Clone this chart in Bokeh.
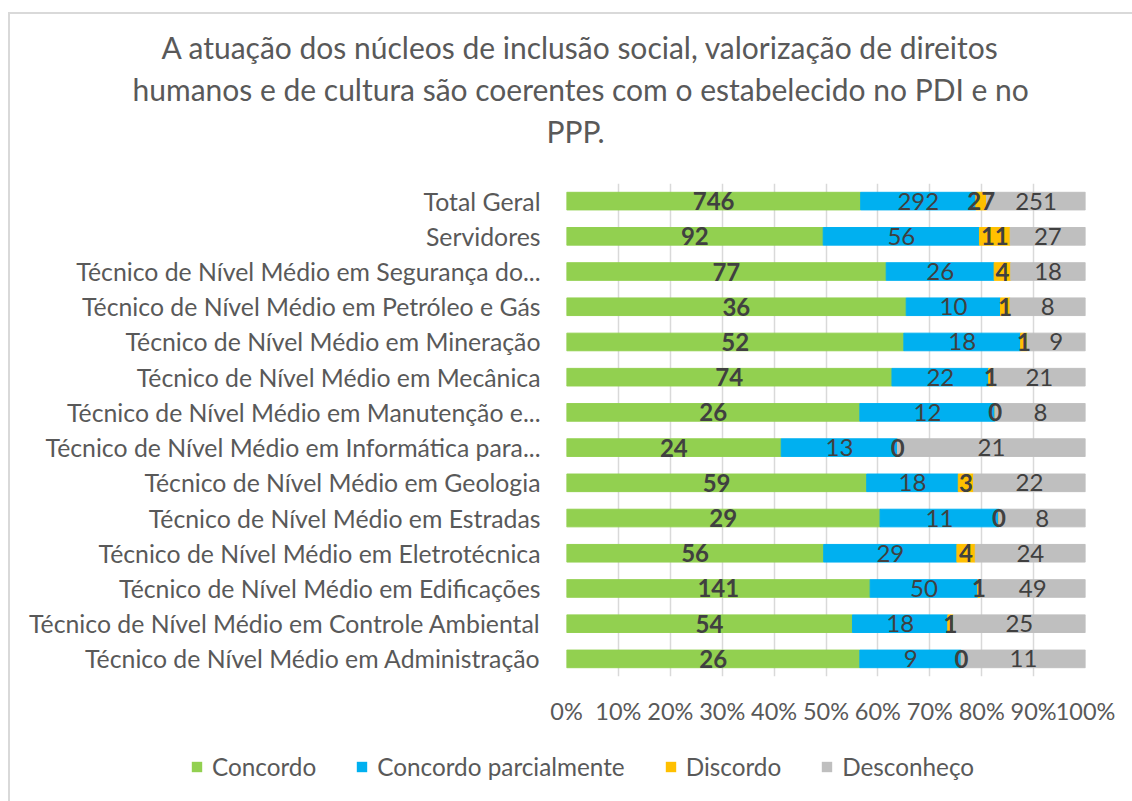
from bokeh.plotting import figure
from bokeh.models import (ColumnDataSource, FactorRange, FixedTicker, NumeralTickFormatter,
                          Title, LabelSet, Legend, LegendItem)
from bokeh.embed import file_html
from bokeh.resources import INLINE
from bokeh.core.properties import value

# ---- data (top to bottom as displayed) ----
categories = [
    "Total Geral",
    "Servidores",
    "Técnico de Nível Médio em Segurança do...",
    "Técnico de Nível Médio em Petróleo e Gás",
    "Técnico de Nível Médio em Mineração",
    "Técnico de Nível Médio em Mecânica",
    "Técnico de Nível Médio em Manutenção e...",
    "Técnico de Nível Médio em Informática para...",
    "Técnico de Nível Médio em Geologia",
    "Técnico de Nível Médio em Estradas",
    "Técnico de Nível Médio em Eletrotécnica",
    "Técnico de Nível Médio em Edificações",
    "Técnico de Nível Médio em Controle Ambiental",
    "Técnico de Nível Médio em Administração",
]
concordo = [746, 92, 77, 36, 52, 74, 26, 24, 59, 29, 56, 141, 54, 26]
concordo_parcialmente = [292, 56, 26, 10, 18, 22, 12, 13, 18, 11, 29, 50, 18, 9]
discordo = [27, 11, 4, 1, 1, 1, 0, 0, 3, 0, 4, 1, 1, 0]
desconheco = [251, 27, 18, 8, 9, 21, 8, 21, 22, 8, 24, 49, 25, 11]

series_names = ["Concordo", "Concordo parcialmente", "Discordo", "Desconheço"]
series_colors = ["#92D050", "#00B0F0", "#FFC000", "#BFBFBF"]
series_bold = [True, False, True, False]
x_ticks = [0.0, 0.1, 0.2, 0.3, 0.4, 0.5, 0.6, 0.7, 0.8, 0.9, 1.0]
title_lines = [
    "A atuação dos núcleos de inclusão social, valorização de direitos",
    "humanos e de cultura são coerentes com o estabelecido no PDI e no",
    "PPP.",
]

FONT = "Lato"
TXT = "#404040"
GRAY = "#595959"
EDGE = "#D9D9D9"

series = [concordo, concordo_parcialmente, discordo, desconheco]
keys = ["s0", "s1", "s2", "s3"]
totals = [sum(v) for v in zip(*series)]

data = {"cat": categories}
for k, s in zip(keys, series):
    data[k] = [v / t for v, t in zip(s, totals)]
source = ColumnDataSource(data)

W = 1132
MAIN_H, LEG_H = 740, 61
LEFT, RIGHT, TOP, BOTTOM = 566, 47, 183, 64
p = figure(width=W, height=MAIN_H,
           y_range=FactorRange(*reversed(categories)), x_range=(0, 1),
           output_backend="svg", toolbar_location=None,
           min_border_left=LEFT, min_border_right=RIGHT,
           min_border_top=TOP, min_border_bottom=BOTTOM)
p.outline_line_color = None
p.border_fill_alpha = 0
p.styles = {"background": f"linear-gradient({EDGE},{EDGE}) 8px 12px / 100% 2px no-repeat, "
                          f"linear-gradient({EDGE},{EDGE}) 8px 12px / 2px 100% no-repeat, white"}

renderers = p.hbar_stack(keys, y="cat", height=0.5, color=series_colors, source=source)

# data labels
starts = [0.0] * len(categories)
for k, s, bold in zip(keys, series, series_bold):
    fr = data[k]
    mids = [st + f / 2 for st, f in zip(starts, fr)]
    starts = [st + f for st, f in zip(starts, fr)]
    ls = ColumnDataSource(dict(x=mids, y=categories, t=[str(v) for v in s]))
    p.add_layout(LabelSet(x="x", y="y", text="t", source=ls,
                          text_align="center", text_baseline="middle",
                          text_font=value(FONT), text_font_size="24px",
                          text_font_style="bold" if bold else "normal",
                          text_color=TXT))

# axes
p.xaxis.ticker = FixedTicker(ticks=x_ticks)
p.xaxis.formatter = NumeralTickFormatter(format="0%")
p.xaxis.axis_line_color = None
p.xaxis.major_tick_line_color = None
p.xaxis.minor_tick_line_color = None
p.xaxis.major_label_standoff = 14
p.xaxis.major_label_text_font = FONT
p.xaxis.major_label_text_font_size = "23.5px"
p.xaxis.major_label_text_color = GRAY

p.yaxis.axis_line_color = None
p.yaxis.major_tick_line_color = None
p.yaxis.minor_tick_line_color = None
p.yaxis.major_label_standoff = 20
p.yaxis.major_label_text_font = FONT
p.yaxis.major_label_text_font_size = "24.8px"
p.yaxis.major_label_text_color = GRAY

p.xgrid.ticker = FixedTicker(ticks=x_ticks)
p.xgrid.grid_line_color = "#D9D9D9"
p.xgrid.grid_line_width = 1.5
p.ygrid.grid_line_color = None

# title lines (first added sits nearest the plot); a thin spacer first
p.add_layout(Title(text=" ", text_font_size="1px", standoff=30), "above")
title_left = [161, 132, 546]
for i in (2, 1, 0):
    p.add_layout(Title(text=title_lines[i], align="left", offset=title_left[i] - LEFT,
                       text_font=FONT, text_font_size="30px", text_font_style="normal",
                       text_color=GRAY, standoff=4), "above")

# legend strip below the chart: same stacked bars (zero height, outside the visible x range)
lg = figure(width=W, height=LEG_H, x_range=(5, 6), y_range=FactorRange(*reversed(categories)),
            output_backend="svg", toolbar_location=None,
            min_border_left=0, min_border_right=0, min_border_top=0, min_border_bottom=0)
lg.axis.visible = False
lg.grid.visible = False
lg.outline_line_color = None
lg.border_fill_alpha = 0
lg.background_fill_alpha = 0
lg.styles = {"background": f"linear-gradient({EDGE},{EDGE}) 8px 0 / 2px 100% no-repeat, white"}
leg_rs = lg.hbar_stack(keys, y="cat", height=0.0, fill_color=series_colors, line_color=None,
                       source=source)
legend = Legend(items=[LegendItem(label=n, renderers=[r]) for n, r in zip(series_names, leg_rs)],
                orientation="horizontal", location=(190, 20),
                glyph_width=13, glyph_height=13, label_standoff=9, spacing=39,
                padding=0, margin=0, border_line_color=None, background_fill_alpha=0,
                label_text_font=FONT, label_text_font_size="24.3px", label_text_color=GRAY)
lg.add_layout(legend)

open("out.html", "w").write(file_html([p, lg], INLINE))
